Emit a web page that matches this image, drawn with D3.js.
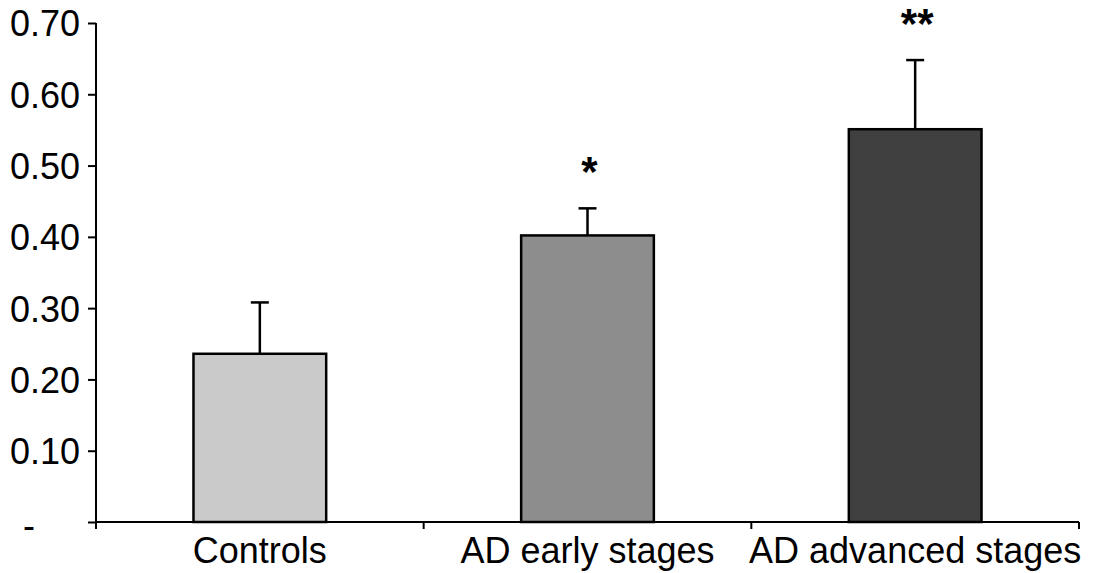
<!DOCTYPE html>
<html><head><meta charset="utf-8">
<script src="https://cdn.jsdelivr.net/npm/d3@7"></script>
<style>body{margin:0;background:#fff}svg{display:block}</style>
</head><body>
<script>
const categories = ["Controls", "AD early stages", "AD advanced stages"];
const means = [0.236, 0.402, 0.551];
const errors = [0.072, 0.038, 0.097];
const marks = ["", "*", "**"];
const barColors = ["#cacaca", "#8c8d8c", "#404040"];
const yTicks = [0, 0.1, 0.2, 0.3, 0.4, 0.5, 0.6, 0.7];
const yTickLabels = ["-", "0.10", "0.20", "0.30", "0.40", "0.50", "0.60", "0.70"];

const W = 1094, H = 573;
const svg = d3.select("body").append("svg").attr("width", W).attr("height", H);
const y = d3.scaleLinear().domain([0, 0.7]).range([522, 23]);
const x = d3.scaleBand().domain(categories).range([96, 1079]).padding(0);
const bw = x.bandwidth() * 0.405;
const font = "'Liberation Sans', Arial, sans-serif";

// Y axis
const ya = svg.append("g").attr("transform", "translate(96,0)")
  .call(d3.axisLeft(y).tickValues(yTicks).tickSize(8).tickFormat((d, i) => yTickLabels[i]));
ya.select(".domain").attr("stroke", "#000").attr("stroke-width", 2).attr("d", `M0,${y(0.7)}V${y(0)}`);
ya.selectAll(".tick line").attr("stroke", "#000").attr("stroke-width", 2);
ya.selectAll(".tick text")
  .attr("font-family", font).attr("font-size", 36).attr("fill", "#000")
  .attr("x", (d, i) => (i === 0 ? -61 : -16)).attr("dy", (d, i) => i === 0 ? "0.42em" : "0.36em");

// X axis
const xa = svg.append("g").attr("transform", `translate(0,${y(0)})`)
  .call(d3.axisBottom(x).tickSize(0).tickPadding(0));
xa.select(".domain").attr("stroke", "#000").attr("stroke-width", 2).attr("d", `M96,0H1079`);
xa.selectAll(".tick text")
  .attr("font-family", font).attr("font-size", 36).attr("fill", "#000")
  .attr("dy", 0).attr("y", 41);
const bounds = categories.map(c => x(c)).concat([x.range()[1]]);
xa.selectAll(".bound").data(bounds).join("line").attr("class", "bound")
  .attr("x1", d => d).attr("x2", d => d).attr("y1", 0).attr("y2", 7)
  .attr("stroke", "#000").attr("stroke-width", 2);

// bars
const g = svg.append("g");
categories.forEach((c, i) => {
  const cx = x(c) + x.bandwidth() / 2;
  g.append("line").attr("x1", cx).attr("x2", cx)
    .attr("y1", y(means[i])).attr("y2", y(means[i] + errors[i]))
    .attr("stroke", "#000").attr("stroke-width", 2.5);
  g.append("line").attr("x1", cx - 9).attr("x2", cx + 9)
    .attr("y1", y(means[i] + errors[i])).attr("y2", y(means[i] + errors[i]))
    .attr("stroke", "#000").attr("stroke-width", 2.5);
  g.append("rect").attr("x", cx - bw / 2).attr("width", bw)
    .attr("y", y(means[i])).attr("height", y(0) - y(means[i]))
    .attr("fill", barColors[i]).attr("stroke", "#000").attr("stroke-width", 2.5);
  if (marks[i]) {
    g.append("text").attr("x", cx + 2)
      .attr("y", y(means[i] + errors[i]) - 22)
      .attr("text-anchor", "middle").attr("font-family", font).attr("font-size", 42)
      .attr("font-weight", "bold").attr("fill", "#000").text(marks[i]);
  }
});
</script>
</body></html>
